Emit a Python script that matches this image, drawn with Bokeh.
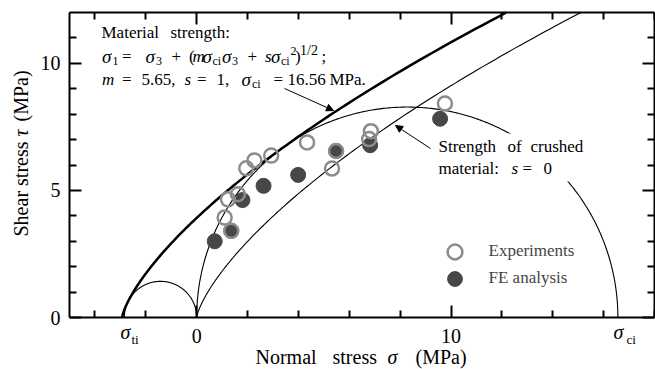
import numpy as np
from bokeh.plotting import figure
from bokeh.models import (FixedTicker, LinearAxis, Label, Arrow, NormalHead,
                          Legend, LegendItem, BoxAnnotation, Range1d)
from bokeh.embed import file_html
from bokeh.resources import INLINE

# ---------------- data ----------------
# Hoek-Brown parameters (from the annotation)
m_hb = 5.65
s_intact = 1.0
s_crushed = 0.0
sigma_ci = 16.56

# Experiments (open circles): normal stress, shear stress (MPa)
exp_sigma = [1.10, 1.23, 1.62, 1.36, 1.95, 2.27, 2.93, 4.34, 5.32, 5.48, 6.78, 6.85, 9.76]
exp_tau = [3.93, 4.65, 4.85, 3.41, 5.87, 6.18, 6.37, 6.89, 5.86, 6.55, 7.02, 7.33, 8.42]

# FE analysis (filled circles)
fe_sigma = [0.71, 1.36, 1.80, 2.63, 3.99, 5.48, 6.82, 9.57]
fe_tau = [3.00, 3.41, 4.62, 5.18, 5.61, 6.55, 6.78, 7.82]

x_lim = (-5, 18)
y_lim = (0, 12)
x_major = [0, 10]
x_minor = [-4, -2, 2, 4, 6, 8, 12, 14, 16, 18]
y_major = [0, 5, 10]
y_minor = [1, 2, 3, 4, 6, 7, 8, 9, 11]

FONT = "Liberation Serif"

# ---------------- layout (pixels) ----------------
W, H = 655, 369
BOX_L, BOX_R, BOX_T, BOX_B = 69, 654, 12, 317   # plot box in page pixels
kx = (BOX_R - BOX_L) / (x_lim[1] - x_lim[0])
ky = (BOX_B - BOX_T) / (y_lim[1] - y_lim[0])
x_range = Range1d(x_lim[0] - BOX_L / kx, x_lim[1] + (W - BOX_R) / kx)
y_range = Range1d(y_lim[0] - (H - BOX_B) / ky, y_lim[1] + BOX_T / ky)


def mohr_envelope(m, s, sci, n=800):
    s3_min = -s * sci / m if s > 0 else 0.0
    s3 = s3_min + np.geomspace(1e-7, 14, n)
    d = sci * np.sqrt(np.clip(m * s3 / sci + s, 0, None))
    k = 1 + m * sci / (2 * d)
    sn = s3 + d / (k + 1)
    tau = d * np.sqrt(k) / (k + 1)
    return np.concatenate([[s3_min], sn]), np.concatenate([[0.0], tau])


def mohr_circle(a, b, n=361):
    th = np.linspace(0, np.pi, n)
    c, r = (a + b) / 2, abs(b - a) / 2
    return c + r * np.cos(th), r * np.sin(th)


def clip_top(x, y, ymax):
    over = np.nonzero(y > ymax)[0]
    if len(over) == 0:
        return x, y
    i = over[0]
    f = (ymax - y[i - 1]) / (y[i] - y[i - 1])
    xe = x[i - 1] + f * (x[i] - x[i - 1])
    return np.append(x[:i], xe), np.append(y[:i], ymax)


sigma_t = sigma_ci / 2 * (m_hb - np.sqrt(m_hb ** 2 + 4 * s_intact))

# ---------------- figure ----------------
p = figure(frame_width=W, frame_height=H, x_range=x_range, y_range=y_range,
           output_backend="svg", toolbar_location=None,
           min_border_left=0, min_border_right=0, min_border_top=0, min_border_bottom=0,
           background_fill_color="white", border_fill_color="white")
p.xgrid.visible = False
p.ygrid.visible = False
p.outline_line_color = None


def tick_style(ax, major, minor, loc, bounds):
    ax.fixed_location = loc
    ax.bounds = bounds
    ax.ticker = FixedTicker(ticks=major, minor_ticks=minor)
    ax.axis_line_width = 2
    ax.axis_line_color = "black"
    ax.major_tick_in = 12
    ax.major_tick_out = 0
    ax.minor_tick_in = 7
    ax.minor_tick_out = 0
    ax.major_tick_line_width = 2
    ax.minor_tick_line_width = 2
    ax.major_label_text_font = FONT
    ax.major_label_text_font_size = "20px"
    ax.major_label_text_color = "black"


xa = p.xaxis[0]
tick_style(xa, x_major, x_minor, y_lim[0], x_lim)
xa.major_label_standoff = 11
ya = p.yaxis[0]
tick_style(ya, y_major, y_minor, x_lim[0], y_lim)
ya.major_label_standoff = 9

# top and right frame edges: ticks only (majors drawn as longer unlabeled ticks)
for place, loc, bounds, ticks, length, line in [
        ("above", y_lim[1], x_lim, x_minor, 7, True),
        ("above", y_lim[1], x_lim, x_major, 12, False),
        ("right", x_lim[1], y_lim, y_minor, 7, True),
        ("right", x_lim[1], y_lim, y_major, 12, False)]:
    ax = LinearAxis(fixed_location=loc, bounds=bounds,
                    ticker=FixedTicker(ticks=[], minor_ticks=ticks),
                    axis_line_width=2, axis_line_color="black" if line else None,
                    minor_tick_in=length, minor_tick_out=0, minor_tick_line_width=2,
                    major_tick_in=0, major_tick_out=0)
    p.add_layout(ax, place)

# curves
xs, ys = clip_top(*mohr_envelope(m_hb, s_intact, sigma_ci), y_lim[1])
p.line(xs, ys, line_color="black", line_width=2.5)
xs, ys = clip_top(*mohr_envelope(m_hb, s_crushed, sigma_ci), y_lim[1])
p.line(xs, ys, line_color="black", line_width=1.1)
xs, ys = mohr_circle(0.0, sigma_ci)
p.line(xs, ys, line_color="black", line_width=1.1)
xs, ys = mohr_circle(sigma_t, 0.0)
p.line(xs, ys, line_color="black", line_width=1.1)

r_fe = p.scatter(fe_sigma, fe_tau, size=15, marker="circle",
                 fill_color="#474747", line_color="#474747", line_width=1)
r_exp = p.scatter(exp_sigma, exp_tau, size=14, marker="circle",
                  fill_color=None, line_color="#8c8c8c", line_width=2.5)


# ---------------- annotations (page pixel layout, yw = text baseline) ----------------
def txt(xw, yw, text, size=17, italic=False, angle=0.0):
    mid = 0.34 * size  # baseline -> middle of text box
    if angle:
        x, y = xw - mid, H - yw
    else:
        x, y = xw, H - (yw - mid)
    p.add_layout(Label(x=x, y=y, x_units="screen", y_units="screen",
                       text=text, text_font=FONT, text_font_size=f"{size}px",
                       text_font_style="italic" if italic else "normal",
                       text_color="black", text_baseline="middle",
                       text_align="left", angle=angle))


# white box behind crushed-material label
p.add_layout(BoxAnnotation(left=434, right=590, top=H - 133, bottom=H - 181,
                           left_units="screen", right_units="screen",
                           top_units="screen", bottom_units="screen",
                           fill_color="white", fill_alpha=1.0, line_alpha=0))

# Material strength block
txt(101, 38, "Material")
txt(170, 38, "strength:")
B2 = 62
SUB, SUP = 3, -7
for xw, t, sz, it, dy in [
    (101.5, "σ", 19, True, 0), (112, "1", 12, False, SUB), (121.5, "=", 17, False, 0),
    (145, "σ", 19, True, 0), (155.5, "3", 12, False, SUB), (171, "+", 17, False, 0),
    (188.5, "(", 17, False, 0), (192, "m", 17, True, 0), (202, "σ", 19, True, 0),
    (212, "ci", 12, False, SUB), (221.5, "σ", 19, True, 0), (231.5, "3", 12, False, SUB),
    (247, "+", 17, False, 0), (264.5, "s", 17, True, 0), (270.5, "σ", 19, True, 0),
    (280.5, "ci", 12, False, SUB), (290, "2", 12, False, SUP), (294.5, ")", 17, False, 0),
    (299.5, "1/2", 14, False, SUP), (321, ";", 17, False, 0)]:
    txt(xw, B2 + dy, t, sz, it)
B3 = 85
for xw, t, sz, it, dy in [
    (101.5, "m", 17, True, 0), (121.5, "=", 17, False, 0), (141, "5.65,", 17, False, 0),
    (184, "s", 17, True, 0), (196.5, "=", 17, False, 0), (216, "1,", 17, False, 0),
    (241, "σ", 19, True, 0), (251.5, "ci", 12, False, SUB), (273, "=", 17, False, 0),
    (287, "16.56", 17, False, 0), (329, "MPa.", 17, False, 0)]:
    txt(xw, B3 + dy, t, sz, it)

# crushed material label
txt(438, 152, "Strength")
txt(507, 152, "of")
txt(530, 152, "crushed")
txt(438, 174, "material:")
txt(511, 174, "s", italic=True)
txt(522, 174, "=")
txt(543, 174, "0")

p.add_layout(Arrow(x_start=284, y_start=H - 88, x_end=333, y_end=H - 110,
                   start_units="screen", end_units="screen", line_width=1, line_color="black",
                   end=NormalHead(size=7, fill_color="black", line_color="black")))
p.add_layout(Arrow(x_start=430, y_start=H - 148, x_end=395, y_end=H - 125,
                   start_units="screen", end_units="screen", line_width=1, line_color="black",
                   end=NormalHead(size=7, fill_color="black", line_color="black")))

# special tick labels
txt(120, 338, "σ", 20, True)
txt(131, 343, "ti", 13)
txt(613, 338, "σ", 20, True)
txt(626, 343, "ci", 13)

# axis titles
txt(255, 363, "Normal", 20)
txt(332, 363, "stress", 20)
txt(387, 363, "σ", 20, True)
txt(415, 363, "(MPa)", 20)
txt(27, 236, "Shear stress", 20, angle=np.pi / 2)
txt(27, 136, "τ", 20, True, angle=np.pi / 2)
txt(27, 121, "(MPa)", 20, angle=np.pi / 2)

# legend (one per entry so that rows sit 27 px apart with 15 px markers)
for label, rend, cy in [("Experiments", r_exp, 251), ("FE analysis", r_fe, 278)]:
    lg = Legend(items=[LegendItem(label=label, renderers=[rend])],
                location=(454 - 18.5, H - (cy + 18.5)), glyph_width=37, glyph_height=37,
                padding=0, margin=0, label_standoff=16,
                background_fill_alpha=0, border_line_alpha=0,
                label_text_font=FONT, label_text_font_size="17px")
    p.add_layout(lg)

open("out.html", "w").write(file_html(p, INLINE))
